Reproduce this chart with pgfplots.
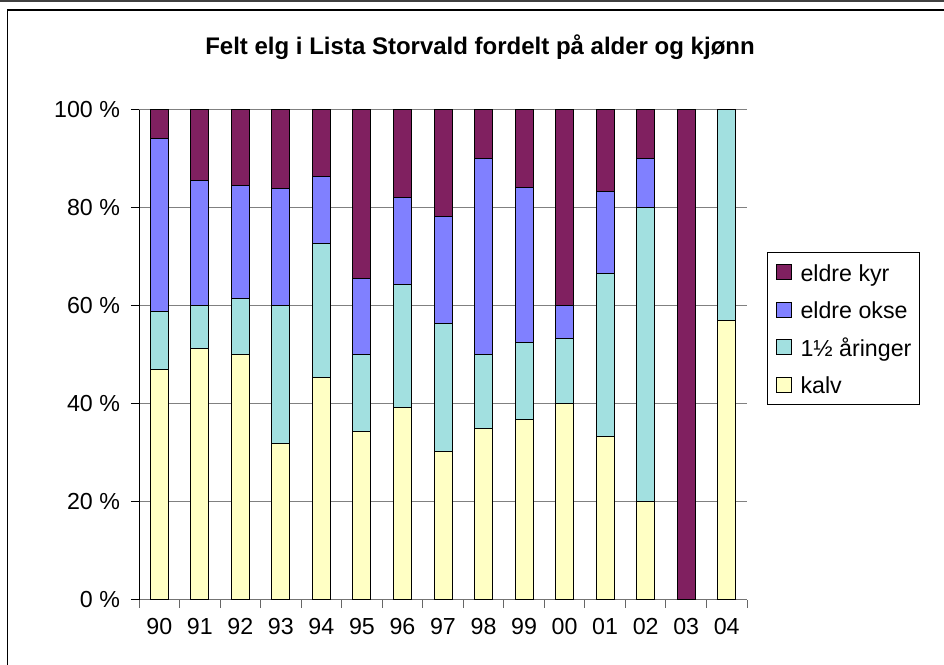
\documentclass[border=0pt]{standalone}
\usepackage{fontspec}
\setmainfont{Liberation Sans}
\usepackage{pgfplots}
\pgfplotsset{compat=1.18}
\definecolor{kyr}{RGB}{128,32,96}
\definecolor{okse}{RGB}{128,128,255}
\definecolor{aring}{RGB}{162,224,224}
\definecolor{kalv}{RGB}{255,255,196}
\newcommand{\fnt}{\fontsize{11.6}{13.9}\selectfont}
\pgfplotsset{legsq/.style={legend image code/.code={%
  \draw[##1,draw=black,line width=0.5pt] (0pt,-3.75pt) rectangle (7.5pt,3.75pt);}}}

\begin{document}
\begin{tikzpicture}[x=1pt,y=1pt]
  \useasboundingbox (0,0) rectangle (472,332.5);
  \fill[black!75] (0,331.6) rectangle (472,332.5);
  \draw[line width=0.7pt] (3.6,-1) -- (3.6,327.4) -- (473,327.4);
  \begin{axis}[
    at={(69.5pt,32.5pt)}, anchor=south west,
    scale only axis, width=304pt, height=245pt,
    ybar stacked, bar width=9pt,
    xmin=-0.5, xmax=14.5, ymin=0, ymax=100,
    axis lines*=left,
    x axis line style={black!55, line width=0.5pt},
    y axis line style={black, line width=0.5pt},
    xtick={0,...,14},
    xticklabels={90,91,92,93,94,95,96,97,98,99,00,01,02,03,04},
    xtick style={draw=none},
    xticklabel style={yshift=-1.5pt},
    extra x ticks={-0.5,0.5,...,14.5}, extra x tick labels={},
    extra x tick style={grid=none, xtick style={draw=black!60, line width=0.5pt}},
    ytick={0,20,40,60,80,100},
    yticklabels={0 \%,20 \%,40 \%,60 \%,80 \%,100 \%},
    yticklabel style={xshift=-2pt},
    ytick style={draw=black, line width=0.5pt},
    tick align=outside, major tick length=4pt,
    ymajorgrids, grid style={black!50, line width=0.5pt},
    tick label style={font=\fnt},
    every axis title shift=0pt,
    title={Felt elg i Lista Storvald fordelt på alder og kjønn},
    title style={at={(0.5609,1.1137)}, anchor=base, inner sep=0pt,
      font=\bfseries\fontsize{12}{14}\selectfont},
    reverse legend, legend cell align=left,
    legend style={at={(1.0329,0.7102)}, anchor=north west,
      draw=black, line width=0.5pt, font=\fnt,
      inner xsep=4pt, inner ysep=3pt, row sep=4.7pt, column sep=4.5pt,
      nodes={inner sep=0pt, text height=11.5pt, text depth=2.5pt}},
  ]
    % kalv
    \addplot[fill=kalv, draw=black, line width=0.5pt, legsq] coordinates {
      (0,47.1) (1,51.4) (2,50.0) (3,32.0) (4,45.5) (5,34.4) (6,39.3) (7,30.4)
      (8,35.0) (9,36.8) (10,40.0) (11,33.3) (12,20.0) (13,0) (14,57.1)};
    % 1 1/2 aaringer
    \addplot[fill=aring, draw=black, line width=0.5pt, legsq] coordinates {
      (0,11.8) (1,8.6) (2,11.5) (3,28.0) (4,27.3) (5,15.6) (6,25.0) (7,26.1)
      (8,15.0) (9,15.8) (10,13.3) (11,33.3) (12,60.0) (13,0) (14,42.9)};
    % eldre okse
    \addplot[fill=okse, draw=black, line width=0.5pt, legsq] coordinates {
      (0,35.3) (1,25.7) (2,23.1) (3,24.0) (4,13.6) (5,15.6) (6,17.9) (7,21.7)
      (8,40.0) (9,31.6) (10,6.7) (11,16.7) (12,10.0) (13,0) (14,0)};
    % eldre kyr
    \addplot[fill=kyr, draw=black, line width=0.5pt, legsq] coordinates {
      (0,5.8) (1,14.3) (2,15.4) (3,16.0) (4,13.6) (5,34.4) (6,17.8) (7,21.8)
      (8,10.0) (9,15.8) (10,40.0) (11,16.7) (12,10.0) (13,100) (14,0)};
    \legend{kalv,1½ åringer,eldre okse,eldre kyr}
  \end{axis}
\end{tikzpicture}
\end{document}
